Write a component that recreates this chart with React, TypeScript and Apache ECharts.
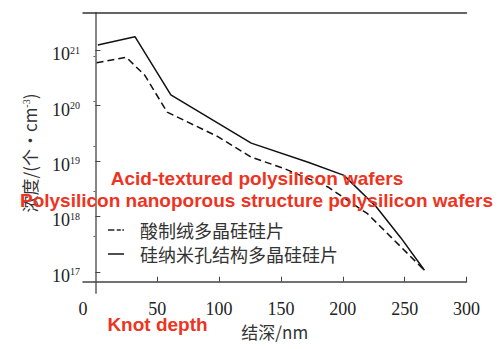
import React, { useEffect, useRef } from "react";
import * as echarts from "echarts";

// Junction depth (nm)
const acidX = [1, 25, 40, 58, 99, 126, 152, 188, 220, 266];
const acidY = [5.9e20, 7.4e20, 3.5e20, 7.6e19, 2.75e19, 1.17e19, 7.4e18, 3.4e18, 1.12e18, 1.07e17];
const nanoX = [2, 32, 61, 126, 172, 201, 227, 247, 266];
const nanoY = [1.23e21, 1.74e21, 1.55e20, 2.1e19, 9.5e18, 5.5e18, 1.5e18, 4.1e17, 1.07e17];

const seriesNames = ["酸制绒多晶硅硅片", "硅纳米孔结构多晶硅硅片"];
const xTicks = [50, 100, 150, 200, 250, 300];
const yExponents = [17, 18, 19, 20, 21];
const rightTicks = [0, 1, 2, 3, 4, 5];
const overlayTexts = [
  "Acid-textured polysilicon wafers",
  "Polysilicon nanoporous structure polysilicon wafers",
  "Knot depth",
];

const xMin = -10;
const xMax = 300;
const yMin = 16.62;
const yMax = 21.668;

const serif = "'Liberation Serif', 'Times New Roman', serif";
const cjk = "'Noto Sans CJK SC', sans-serif";
const red = "#ee3322";
const redFont = "bold 19px 'Liberation Sans', Arial, sans-serif";

export default function App() {
  const ref = useRef<HTMLDivElement>(null);
  useEffect(() => {
    if (!ref.current) return;
    const chart = echarts.init(ref.current, null, { renderer: "svg" });
    const toPts = (xs: number[], ys: number[]) => xs.map((x, i) => [x, Math.log10(ys[i])]);
    chart.setOption({
      animation: false,
      backgroundColor: "#fff",
      grid: { left: 83, top: 13, right: 33.5, bottom: 56 },
      legend: {
        orient: "vertical",
        left: 103,
        top: 216,
        itemWidth: 20,
        itemHeight: 1.6,
        itemGap: 6,
        data: [
          { name: seriesNames[0], icon: "path://M0 0H8V2H0ZM11 0H16V2H11ZM18 0H20V2H18Z" },
          { name: seriesNames[1], icon: "path://M0 0H20V2H0Z" },
        ],
        itemStyle: { color: "#222" },
        textStyle: { fontFamily: cjk, fontSize: 18, color: "#333", padding: [0, 0, 0, 9] },
      },
      xAxis: [
        {
          type: "value",
          min: xMin,
          max: xMax,
          name: "结深/nm",
          nameLocation: "middle",
          nameGap: 29,
          nameTextStyle: { fontFamily: cjk, fontSize: 17, color: "#333" },
          axisLine: { show: true, lineStyle: { color: "#444", width: 1.5 } },
          axisTick: { show: true, inside: true, length: 5, customValues: xTicks, lineStyle: { color: "#444" } },
          axisLabel: {
            customValues: [xMin, ...xTicks],
            formatter: (v: number) => (v === xMin ? "0" : String(v)),
            fontFamily: serif,
            fontSize: 18,
            color: "#222",
            margin: 7,
          },
          splitLine: { show: false },
        },
        {
          type: "value",
          position: "top",
          min: xMin,
          max: xMax,
          axisLine: { show: true, lineStyle: { color: "#333", width: 1.5 } },
          axisTick: { show: false },
          axisLabel: { show: false },
          splitLine: { show: false },
        },
      ],
      yAxis: [
        {
          type: "value",
          min: yMin,
          max: yMax,
          name: "浓度/(个·cm{s|-3})",
          nameLocation: "middle",
          nameGap: 45,
          nameTextStyle: {
            fontFamily: cjk,
            fontSize: 17,
            color: "#333",
            rich: { s: { fontSize: 10, fontFamily: serif, verticalAlign: "top", color: "#333" } },
          },
          axisLine: { show: true, lineStyle: { color: "#555", width: 1.5 } },
          axisTick: { show: true, inside: true, length: 5, customValues: yExponents, lineStyle: { color: "#444" } },
          axisLabel: {
            customValues: yExponents,
            formatter: (v: number) => `{b|10}{s|${v}}`,
            margin: 3,
            padding: [8, 0, 0, 0],
            rich: {
              b: { fontFamily: serif, fontSize: 18, color: "#222", lineHeight: 18 },
              s: { fontFamily: serif, fontSize: 10, color: "#222", verticalAlign: "top", lineHeight: 10 },
            },
          },
          splitLine: { show: false },
        },
        {
          type: "value",
          position: "right",
          min: -0.25,
          max: 5.972,
          axisLine: { show: true, lineStyle: { color: "#888", width: 1.5 } },
          axisTick: { show: true, inside: true, length: 2, customValues: rightTicks, lineStyle: { color: "#666" } },
          axisLabel: { show: false },
          splitLine: { show: false },
        },
      ],
      series: [
        {
          name: seriesNames[0],
          type: "line",
          data: toPts(acidX, acidY),
          symbol: "none",
          lineStyle: { color: "#111", width: 1.5, type: [7, 4] },
          itemStyle: { color: "#111" },
        },
        {
          name: seriesNames[1],
          type: "line",
          data: toPts(nanoX, nanoY),
          symbol: "none",
          lineStyle: { color: "#111", width: 1.5 },
          itemStyle: { color: "#111" },
        },
      ],
      graphic: [
        {
          type: "text",
          x: 257,
          y: 178,
          z: 100,
          style: { text: overlayTexts[0], fill: red, font: redFont, textAlign: "center", textVerticalAlign: "middle" },
        },
        {
          type: "text",
          x: 256.5,
          y: 200.5,
          z: 100,
          style: { text: overlayTexts[1], fill: red, font: redFont, textAlign: "center", textVerticalAlign: "middle" },
        },
        {
          type: "text",
          x: 157.5,
          y: 324,
          z: 100,
          style: { text: overlayTexts[2], fill: red, font: redFont, textAlign: "center", textVerticalAlign: "middle" },
        },
      ],
    });
    return () => chart.dispose();
  }, []);
  return <div ref={ref} style={{ position: "fixed", left: 0, top: 0, width: 500, height: 349 }} />;
}
